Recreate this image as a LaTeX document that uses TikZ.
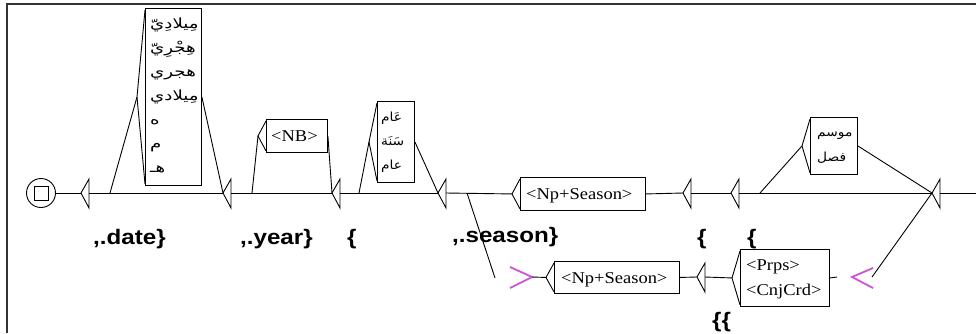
\documentclass[tikz,border=0pt]{standalone}
\usepackage{fontspec}
\setmainfont{Liberation Serif}
\newfontfamily\boxfont[FakeStretch=1.12]{Liberation Serif}
\newfontfamily\labfont[FakeStretch=1.15]{Liberation Sans}
\newfontfamily\arabicfont[Script=Arabic,FakeStretch=1.3]{DejaVu Sans}
\newfontfamily\arabicnarrow[Script=Arabic,FakeStretch=1.1]{DejaVu Sans}
\TeXXeTstate=1
\definecolor{pinkc}{RGB}{204,84,214}
\tikzset{
  ln/.style={line width=0.9pt},
  ubox/.style={draw, line width=0.9pt, rectangle, inner sep=0pt, anchor=north west},
  btext/.style={font=\boxfont\fontsize{16.5}{16.5}\selectfont, inner sep=0pt, anchor=base west},
  atext/.style={font=\arabicfont\fontsize{14}{14}\selectfont, inner sep=0pt, anchor=base west},
  antext/.style={font=\arabicnarrow\fontsize{12.5}{12.5}\selectfont, inner sep=0pt, anchor=base west},
  lab/.style={font=\labfont\bfseries\fontsize{21}{21}\selectfont, inner sep=0pt, anchor=base west},
  pinkln/.style={draw=pinkc, line width=1.8pt},
  tri/.pic={\draw[line width=0.9pt] (0,0) -- (8,-14) -- (8,15) -- cycle;
            \coordinate (-in) at (0,0); \coordinate (-out) at (8,0);},
}
\newcommand\ubracket[1]{\draw[ln] ([yshift=-2pt]#1.north west) -- ([xshift=-8pt]#1.west) -- ([yshift=2pt]#1.south west);}
\begin{document}
\begin{tikzpicture}[x=1pt,y=-1pt]
\useasboundingbox (0,0) rectangle (976,333);
\fill[white] (0,0) rectangle (976,333);
% frame
\draw[line width=1.2pt, black!80] (7,333) -- (7,4) -- (976,4);

% initial state
\node[circle, draw, line width=0.9pt, minimum size=29pt, inner sep=0pt] (init) at (41,193) {};
\node[draw, line width=0.9pt, minimum size=14pt, inner sep=0pt] (initsq) at (init) {};

% triangles (empty boxes)
\pic (t1) at (81,193) {tri};
\pic (t2) at (223,193) {tri};
\pic (t3) at (332,193) {tri};
\pic (t4) at (438,193) {tri};
\pic (t5) at (683,193) {tri};
\pic (t6) at (731,193) {tri};
\pic (t7) at (932,193) {tri};
\pic (t8) at (697,277) {tri};

% boxes
\node[ubox, minimum width=56pt, minimum height=177pt] (date) at (145,8) {};
\node[ubox, minimum width=61pt, minimum height=33pt] (nb) at (266,119) {};
\node[ubox, minimum width=37pt, minimum height=81pt] (aam) at (377,101) {};
\node[ubox, minimum width=125pt, minimum height=33pt] (np1) at (520,177) {};
\node[ubox, minimum width=47pt, minimum height=57pt] (fasl) at (810,117) {};
\node[ubox, minimum width=125pt, minimum height=32pt] (np2) at (554,261) {};
\node[ubox, minimum width=89pt, minimum height=57pt] (prps) at (740,249) {};

\ubracket{date}
\ubracket{nb}
\ubracket{aam}
\ubracket{np1}
\ubracket{fasl}
\ubracket{np2}
\ubracket{prps}

% box texts
\node[atext] (d1) at (150,28) {\beginR مِيلادِيّ\endR};
\node[atext] (d2) at (150,52) {\beginR هِجْرِيّ\endR};
\node[atext] (d3) at (150,76) {\beginR هجري\endR};
\node[atext] (d4) at (150,100) {\beginR مِيلادي\endR};
\node[atext] (d5) at (150,124) {\beginR ه\endR};
\node[atext] (d6) at (150,148) {\beginR م\endR};
\node[atext] (d7) at (150,172) {\beginR هـ\endR};

\node[btext] (nbt) at (271,141) {<NB>};

\node[antext] (a1) at (381,121) {\beginR عَام\endR};
\node[antext] (a2) at (381,145) {\beginR سَنَة\endR};
\node[antext] (a3) at (381,169) {\beginR عام\endR};

\node[btext] (np1t) at (526,199) {<Np+Season>};

\node[antext] (f1) at (817,136) {\beginR موسم\endR};
\node[antext] (f2) at (817,161) {\beginR فصل\endR};

\node[btext] (np2t) at (561,283) {<Np+Season>};
\node[btext] (pr1) at (746,270) {<Prps>};
\node[btext] (pr2) at (746,295) {<CnjCrd>};

% labels (outputs)
\node[lab] (ldate) at (93,244) {,.date\}};
\node[lab] (lyear) at (240,244) {,.year\}};
\node[lab] (lb1) at (347,244) {\{};
\node[lab] (lseason) at (452,242) {,.season\}};
\node[lab] (lb2) at (697,244) {\{};
\node[lab] (lb3) at (747,244) {\{};
\node[lab] (lb4) at (712,327) {\{\{};

% helper coordinates
\coordinate (s1) at (110,193);
\coordinate (s2) at (252,193);
\coordinate (s3) at (359,193);
\coordinate (s4) at (467,193);
\coordinate (s4e) at (495,278);
\coordinate (s6) at (760,193);
\coordinate (pend) at (837,277);
\coordinate (edge) at (976,193);

% pink morphological-mode markers
\coordinate (gtip) at (532,277);
\draw[pinkln] (510,267) -- (gtip) -- (510,288);
\coordinate (ltip) at (852,277);
\coordinate (lout) at (872,277);
\draw[pinkln] (873,268) -- (ltip) -- (873,288);

% transitions
\draw[ln] (init) -- (t1-in);
\draw[ln] (t1-out) -- (t2-in);
\draw[ln] (s1) -- ([xshift=-8pt]date.west);
\draw[ln] (date.east) -- (t2-in);
\draw[ln] (t2-out) -- (t3-in);
\draw[ln] (s2) -- ([xshift=-8pt]nb.west);
\draw[ln] (nb.east) -- (t3-in);
\draw[ln] (t3-out) -- (t4-in);
\draw[ln] (s3) -- ([xshift=-8pt]aam.west);
\draw[ln] (aam.east) -- (t4-in);
\draw[ln] (t4-out) -- ([xshift=-8pt]np1.west);
\draw[ln] (s4) -- (s4e);
\draw[ln] (np1.east) -- (t5-in);
\draw[ln] (t5-out) -- (t6-in);
\draw[ln] (t6-out) -- (t7-in);
\draw[ln] (s6) -- ([xshift=-8pt]fasl.west);
\draw[ln] (fasl.east) -- (t7-in);
\draw[ln] (t7-out) -- (edge);
\draw[ln] (gtip) -- ([xshift=-8pt]np2.west);
\draw[ln] (np2.east) -- (t8-in);
\draw[ln] (t8-out) -- ([xshift=-8pt]prps.west);
\draw[ln] (prps.east) -- (pend);
\draw[ln] (lout) -- (t7-in);
\end{tikzpicture}
\end{document}
